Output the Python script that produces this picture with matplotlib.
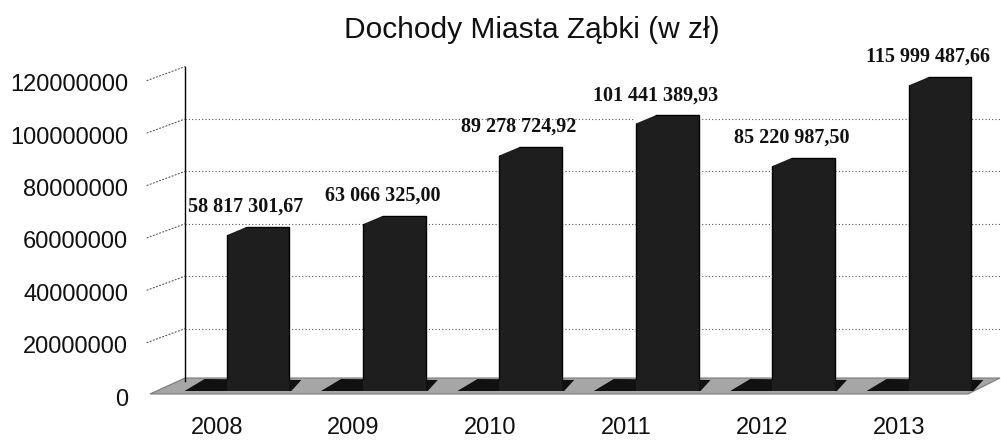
import matplotlib
matplotlib.use('Agg')
import matplotlib.pyplot as plt
from matplotlib.patches import Polygon
from matplotlib.transforms import IdentityTransform, ScaledTranslation

plt.rcParams['font.family'] = ['Liberation Sans', 'DejaVu Sans']

# ---- data ----
title = 'Dochody Miasta Ząbki (w zł)'
years = ['2008', '2009', '2010', '2011', '2012', '2013']
values = [58817301.67, 63066325.00, 89278724.92, 101441389.93, 85220987.50, 115999487.66]
value_labels = ['58 817 301,67', '63 066 325,00', '89 278 724,92',
                '101 441 389,93', '85 220 987,50', '115 999 487,66']
yticks = [0, 20000000, 40000000, 60000000, 80000000, 100000000, 120000000]
ytick_labels = [str(t) for t in yticks]

W, H = 1001, 441
DPI = 100
fig = plt.figure(figsize=(W / DPI, H / DPI), dpi=DPI)
fig.patch.set_facecolor('white')

ax_left, ax_bottom_px, ax_w, ax_h = 185, 381, 815, 314.4
ax = fig.add_axes([ax_left / W, (H - ax_bottom_px) / H, ax_w / W, ax_h / H])
ax.set_facecolor('white')

xpos = list(range(len(years)))
spacing = 136.4
ax.set_xlim(-0.535, -0.535 + ax_w / spacing)
ax.set_ylim(0, 120000000)

bars = ax.bar(xpos, values, width=0.46, color='#1e1e1e', edgecolor='black',
              linewidth=1, zorder=3)

# grid
ax.set_axisbelow(True)
ax.set_yticks(yticks)
ax.set_yticklabels(ytick_labels)
ax.yaxis.grid(True, linestyle=(0, (1, 2)), color='#555555', linewidth=0.8)
ax.get_ygridlines()[-1].set_visible(False)
ax.get_ygridlines()[0].set_visible(False)

for s in ['top', 'right', 'bottom']:
    ax.spines[s].set_visible(False)
ax.spines['left'].set_color('black')
ax.spines['left'].set_linewidth(1.0)

ax.tick_params(axis='y', length=0, pad=57 * 0.72, labelsize=17, labelcolor='#111111')
ax.set_xticks(xpos)
ax.set_xticklabels(years)
ax.tick_params(axis='x', length=0, pad=26, labelsize=17, labelcolor='#111111')

yoff = ScaledTranslation(0, -16 / DPI, fig.dpi_scale_trans)
for lbl in ax.get_yticklabels():
    lbl.set_transform(lbl.get_transform() + yoff)
xoff = ScaledTranslation(-41 / DPI, 0, fig.dpi_scale_trans)
for lbl in ax.get_xticklabels():
    lbl.set_transform(lbl.get_transform() + xoff)

# perspective dotted lines from labels to the wall
for t in yticks[1:]:
    ax.annotate('', xy=(0, t), xycoords=('axes fraction', 'data'),
                xytext=(-38, -14), textcoords='offset pixels',
                arrowprops=dict(arrowstyle='-', linestyle=(0, (1, 2)),
                                color='#555555', lw=0.8, shrinkA=0, shrinkB=0),
                annotation_clip=False)

# floor
x0, yb = ax.transAxes.transform((0, 0))
x1, _ = ax.transAxes.transform((1, 0))
floor = Polygon([(x0 - 35, yb - 13), (x1 - 32, yb - 13), (x1, yb + 3), (x0, yb + 3)],
                closed=True, facecolor='#a6a6a6', edgecolor='#7a7a7a', lw=0.8,
                transform=IdentityTransform(), zorder=1, clip_on=False)
ax.add_patch(floor)

# bar shadows / bases and chamfered tops
for b in bars:
    L = b.get_x()
    R = L + b.get_width()
    Ld, _ = ax.transData.transform((L, 0))
    Rd, top_d = ax.transData.transform((R, b.get_height()))
    shadow = Polygon([(Ld - 42, yb - 10), (Rd + 2, yb - 10), (Rd + 12, yb + 1),
                      (Ld - 22, yb + 2)], closed=True, facecolor='#111111',
                     edgecolor='none', transform=IdentityTransform(), zorder=2,
                     clip_on=False)
    ax.add_patch(shadow)
    base = Polygon([(Ld, yb - 10), (Rd, yb - 10), (Rd, yb + 1), (Ld, yb + 1)],
                   closed=True, facecolor='#1e1e1e', edgecolor='none',
                   transform=IdentityTransform(), zorder=3, clip_on=False)
    ax.add_patch(base)
    cut = Polygon([(Ld - 1.5, top_d + 1.5), (Ld + 20, top_d + 1.5), (Ld + 20, top_d),
                   (Ld - 1.5, top_d - 9)], closed=True, facecolor='white',
                  edgecolor='none', transform=IdentityTransform(), zorder=4,
                  clip_on=False)
    ax.add_patch(cut)

# value labels
for xi, v, lab in zip(xpos, values, value_labels):
    ax.annotate(lab, xy=(xi, v), xytext=(-12, 20), textcoords='offset pixels',
                ha='center', va='center', fontsize=14.5, fontweight='bold',
                family=['Liberation Serif', 'DejaVu Serif'], color='#111111',
                annotation_clip=False, zorder=5)

fig.text(532 / W, 1 - 38 / H, title, ha='center', va='baseline', fontsize=21.5,
         color='#111111')

fig.savefig('out.png', dpi=DPI, facecolor='white')
